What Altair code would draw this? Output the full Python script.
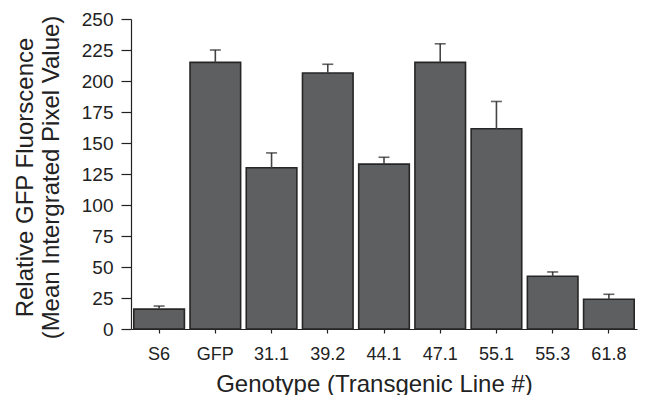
import altair as alt
import pandas as pd

genotypes = ["S6", "GFP", "31.1", "39.2", "44.1", "47.1", "55.1", "55.3", "61.8"]
mean_values = [16, 215, 130, 206.5, 133, 215, 161.5, 42.5, 24]
error_tops = [18.5, 225, 142, 213.5, 138.5, 230, 183.5, 46, 28]
y_ticks = [0, 25, 50, 75, 100, 125, 150, 175, 200, 225, 250]

df = pd.DataFrame({"genotype": genotypes, "value": mean_values, "top": error_tops})

FONT = "Liberation Sans"
TXT = "#222222"

x_axis = alt.Axis(
    title="Genotype (Transgenic Line #)",
    labelAngle=0,
    labelFont=FONT,
    labelFontSize=18,
    labelColor=TXT,
    labelBaseline="alphabetic",
    labelPadding=26,
    labelOverlap=False,
    tickSize=4,
    tickColor=TXT,
    domainColor=TXT,
    tickWidth=1.2,
    domainWidth=1.2,
    titleFont=FONT,
    titleFontSize=24,
    titleFontWeight="normal",
    titleColor=TXT,
    titleX=243,
    titleY=62,
    titleAlign="center",
    titleBaseline="alphabetic",
)

y_axis = alt.Axis(
    title=["Relative GFP Fluorscence", "(Mean Intergrated Pixel Value)"],
    values=y_ticks,
    tickCount=30,
    grid=False,
    labelOverlap=False,
    labelFlush=False,
    labelFont=FONT,
    labelFontSize=19,
    labelColor=TXT,
    labelPadding=8,
    tickSize=10,
    tickColor=TXT,
    domainColor=TXT,
    tickWidth=1.2,
    domainWidth=1.2,
    titleFont=FONT,
    titleFontSize=24,
    titleFontWeight="normal",
    titleColor=TXT,
    titleAngle=270,
    titleX=-99,
    titleY=158,
    titleAlign="center",
    titleBaseline="alphabetic",
    titleLineHeight=26,
)

x_scale = alt.Scale(paddingInner=0.1, paddingOuter=0.05)
y_scale = alt.Scale(domain=[0, 250], nice=False, zero=True)

base = alt.Chart(df)

bars = base.mark_bar(
    color="#5e5f61", stroke="#262626", strokeWidth=1.6
).encode(
    x=alt.X("genotype:N", sort=genotypes, scale=x_scale, axis=x_axis),
    y=alt.Y("value:Q", scale=y_scale, axis=y_axis),
)

err_line = base.mark_rule(color="#444444", strokeWidth=1.6).encode(
    x=alt.X("genotype:N", sort=genotypes, scale=x_scale, axis=x_axis),
    y=alt.Y("value:Q", scale=y_scale, axis=y_axis),
    y2="top:Q",
)

err_cap = base.mark_tick(
    color="#222222", size=11, thickness=1.6, orient="horizontal"
).encode(
    x=alt.X("genotype:N", sort=genotypes, scale=x_scale, axis=x_axis),
    y=alt.Y("top:Q", scale=y_scale, axis=y_axis),
)

chart = (
    alt.layer(bars, err_line, err_cap)
    .properties(
        width=506,
        height=310,
        autosize=alt.AutoSizeParams(type="none"),
        padding={"left": 123, "top": 11, "right": 6, "bottom": 66},
    )
    .configure_view(stroke=None)
)

chart.save("out.html", embed_options={"renderer": "svg", "actions": False})
